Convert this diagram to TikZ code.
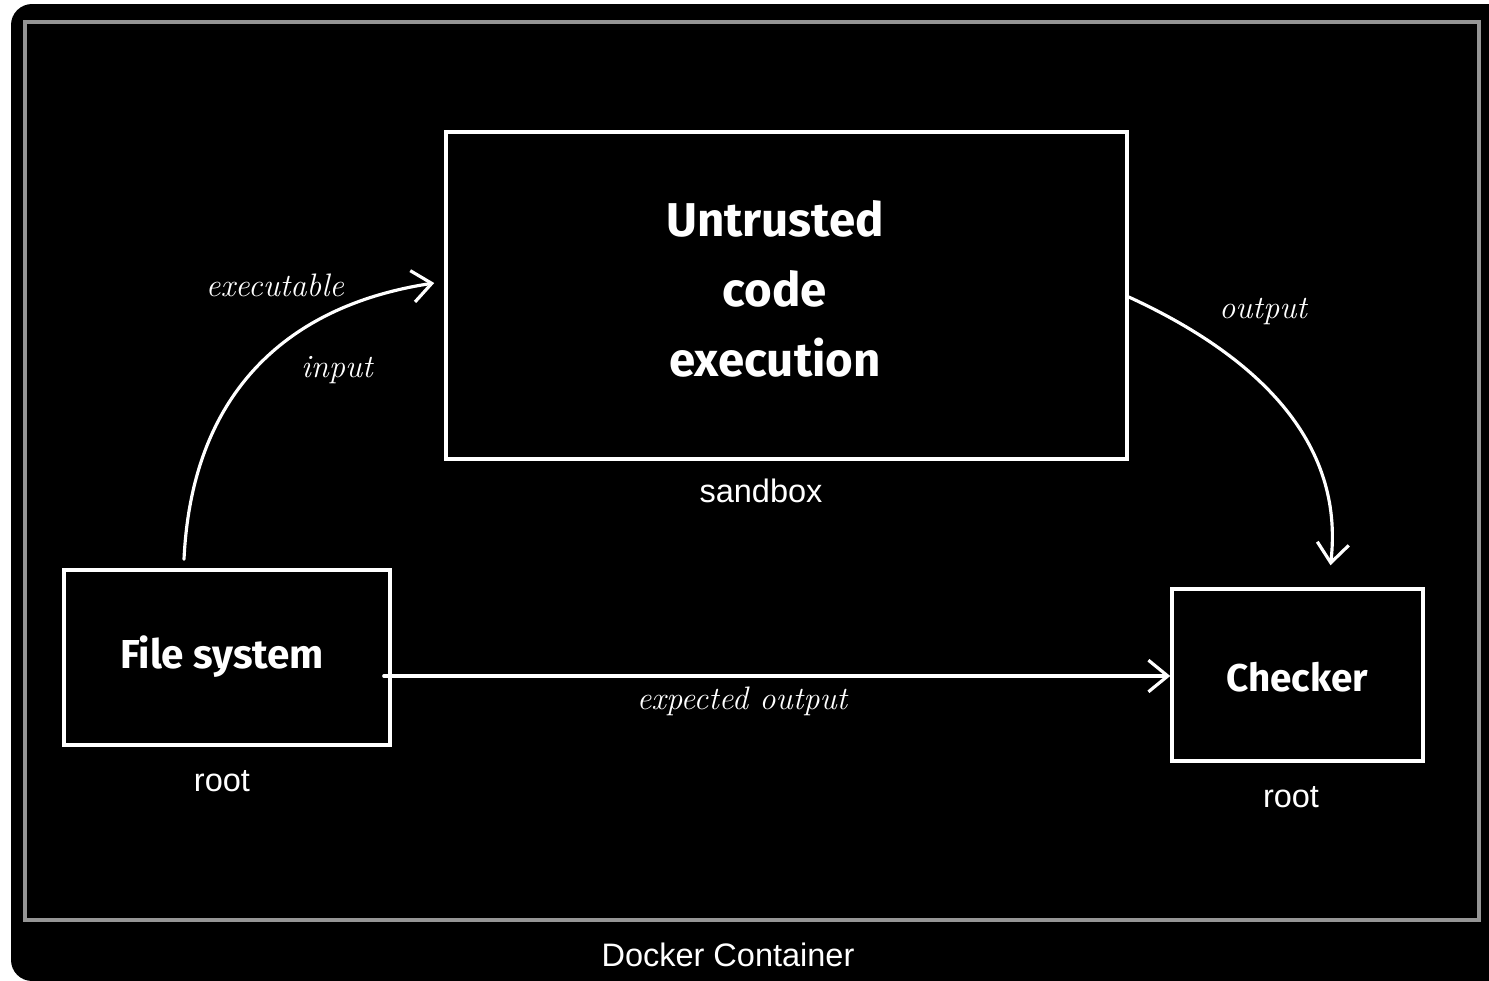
\documentclass[tikz,border=0pt]{standalone}
\usepackage{fontspec}
\setmainfont{Latin Modern Roman}
\newfontfamily\helv{Liberation Sans}
\newfontfamily\boxfont{Fira Sans}
\usetikzlibrary{arrows.meta,calc}
\definecolor{framegray}{HTML}{959595}
\tikzset{
  box/.style={draw=white, line width=2pt, fill=black, inner sep=0pt},
  boxtext/.style={text=white, font=\boxfont\bfseries, align=center},
  plain/.style={text=white, font=\helv\fontsize{18.5}{22}\selectfont},
  hand/.style={text=white, font=\itshape\fontsize{18.5}{22}\selectfont},
  arr/.style={draw=white, line width=1.8pt, line cap=round,
    -{Straight Barb[length=11pt,width=18pt,line width=1.8pt]}},
}
\begin{document}
\begin{tikzpicture}[x=0.02cm,y=-0.02cm]
\useasboundingbox (0,0) rectangle (1489,981);
\fill[white] (0,0) rectangle (1489,981);
\fill[black, rounded corners=12pt] (11,4) rectangle (1520,981);
\fill[black] (1400,4) rectangle (1489,981);
\draw[framegray, line width=1.8pt] (25,22) rectangle (1479,920);
\node[plain] (docker) at (728,955) {Docker Container};

\node[box, minimum width=681*0.02cm, minimum height=327*0.02cm] (ut) at (786.5,295.5) {};
\node[boxtext, font=\boxfont\bfseries\fontsize{27}{39.7}\selectfont] (uttext) at (775,289) {Untrusted\\code\\execution};
\node[plain] (sandbox) at (761,491) {sandbox};

\node[box, minimum width=326*0.02cm, minimum height=175*0.02cm] (fs) at (227,657.5) {};
\node[boxtext, font=\boxfont\bfseries\fontsize{23}{28}\selectfont] (fstext) at (222,657) {File system};
\node[plain] (root1) at (222,781) {root};

\node[box, minimum width=251*0.02cm, minimum height=172*0.02cm] (ck) at (1297.5,675) {};
\node[boxtext, font=\boxfont\bfseries\fontsize{22}{27}\selectfont] (cktext) at (1297,677) {Checker};
\node[plain] (root2) at (1291,797) {root};

\coordinate (exs) at ($(fs.north)+(-43,-9)$);
\coordinate (exe) at ($(ut.west)+(-10,-12.5)$);
\draw[arr] (exs) .. controls (192,390) and (290,305) .. (exe);
\node[hand] (lexec) at (275,285) {executable};
\node[hand] (linput) at (337,370) {input};

\coordinate (os) at ($(ut.east)+(0,1.5)$);
\coordinate (oe) at ($(ck.north)+(33,-22)$);
\draw[arr] (os) .. controls (1255,355) and (1345,440) .. (oe);
\node[hand] (lout) at (1263,311) {output};

\coordinate (eos) at ($(fs.east)+(-8,18.5)$);
\draw[arr] (eos) -- (eos -| ck.west);
\node[hand] (leo) at (742,701) {expected output};
\end{tikzpicture}
\end{document}
